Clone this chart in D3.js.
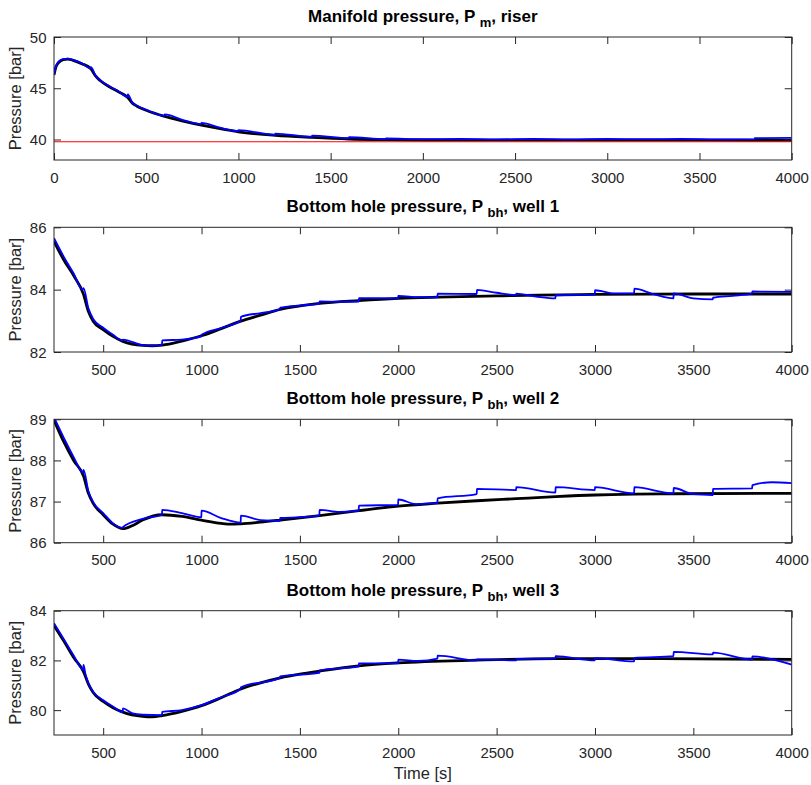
<!DOCTYPE html>
<html>
<head>
<meta charset="utf-8">
<script src="https://cdn.jsdelivr.net/npm/d3@7"></script>
<style>
  body { margin: 0; background: #fff; }
  svg { display: block; }
</style>
</head>
<body>
<svg id="chart"></svg>
<script>
// values: [time (s), pressure (bar)]
const pmRef = [[0,46.3],[10,47.05],[25,47.5],[50,47.8],[75,47.85],[100,47.75],[150,47.4],[200,46.9],[225,46.2],[250,45.75],[300,45.15],[350,44.65],[400,44.1],[425,43.55],[450,43.25],[500,42.85],[600,42.25],[700,41.8],[800,41.4],[900,41.05],[1000,40.75],[1200,40.4],[1400,40.2],[1600,40.05],[1800,39.98],[2000,39.95],[2500,39.93],[3000,39.93],[3500,39.93],[4000,39.92]];
const pmMeas = [[0,46.3],[10,47.1],[25,47.6],[50,47.85],[75,47.9],[100,47.8],[150,47.45],[199,46.95],[200,47.05],[225,46.25],[250,45.8],[300,45.2],[350,44.7],[399,44.15],[400,44.4],[425,43.6],[450,43.3],[500,42.9],[599,42.3],[600,42.45],[700,41.9],[799,41.5],[800,41.62],[900,41.15],[999,40.82],[1000,40.92],[1199,40.45],[1200,40.58],[1399,40.27],[1400,40.38],[1599,40.12],[1600,40.22],[1799,40.03],[1800,40.1],[2000,40.04],[2200,40.05],[2400,40.01],[2600,40.05],[2800,40.01],[3000,40.05],[3200,40.04],[3400,40.05],[3600,40.01],[3799,40.04],[3800,40.14],[4000,40.15]];
const pmSetpoint = 39.78;

const pbh1Ref = [[250,85.55],[300,84.95],[350,84.45],[400,83.85],[425,83.3],[450,82.98],[500,82.72],[550,82.5],[600,82.34],[700,82.21],[750,82.2],[800,82.22],[900,82.35],[1000,82.52],[1100,82.75],[1200,82.99],[1300,83.18],[1400,83.37],[1500,83.48],[1600,83.56],[1800,83.65],[2000,83.72],[2200,83.76],[2500,83.8],[3000,83.85],[3500,83.86],[4000,83.86]];
const pbh1Meas = [[250,85.65],[300,85.05],[350,84.52],[395,84.0],[400,84.05],[425,83.4],[450,83.05],[500,82.78],[550,82.55],[599,82.37],[600,82.4],[700,82.22],[750,82.2],[799,82.22],[800,82.37],[900,82.4],[999,82.5],[1000,82.55],[1100,82.77],[1199,83.0],[1200,83.13],[1300,83.25],[1399,83.37],[1400,83.42],[1500,83.49],[1599,83.55],[1600,83.62],[1700,83.61],[1799,83.62],[1800,83.73],[1999,83.72],[2000,83.8],[2100,83.76],[2199,83.75],[2200,83.87],[2399,83.86],[2400,83.99],[2500,83.9],[2599,83.83],[2600,83.87],[2700,83.78],[2799,83.72],[2800,83.82],[2999,83.84],[3000,83.98],[3100,83.88],[3199,83.88],[3200,84.03],[3300,83.85],[3399,83.72],[3400,83.88],[3500,83.72],[3599,83.69],[3600,83.74],[3700,83.8],[3799,83.87],[3800,83.94],[4000,83.93]];

const pbh2Ref = [[250,88.98],[300,88.45],[350,88.0],[400,87.62],[425,87.2],[450,86.95],[500,86.68],[550,86.45],[600,86.34],[650,86.42],[700,86.55],[800,86.68],[900,86.64],[1000,86.55],[1100,86.47],[1150,86.45],[1200,86.46],[1300,86.5],[1400,86.55],[1600,86.66],[1800,86.78],[2000,86.89],[2200,86.96],[2400,87.02],[2600,87.07],[2800,87.12],[3000,87.16],[3200,87.18],[3400,87.19],[4000,87.2]];
const pbh2Meas = [[250,89.05],[300,88.55],[350,88.08],[399,87.7],[400,87.77],[425,87.25],[450,86.98],[500,86.72],[550,86.47],[599,86.36],[600,86.38],[700,86.58],[799,86.68],[800,86.8],[900,86.72],[999,86.62],[1000,86.78],[1100,86.6],[1199,86.49],[1200,86.66],[1300,86.55],[1399,86.53],[1400,86.6],[1500,86.62],[1599,86.66],[1600,86.8],[1700,86.75],[1799,86.78],[1800,86.9],[1999,86.92],[2000,87.05],[2090,86.94],[2199,86.96],[2200,87.08],[2399,87.18],[2400,87.31],[2599,87.28],[2600,87.35],[2799,87.22],[2800,87.35],[2999,87.28],[3000,87.35],[3199,87.2],[3200,87.35],[3399,87.2],[3400,87.33],[3500,87.18],[3599,87.16],[3600,87.31],[3799,87.32],[3800,87.4],[3900,87.47],[4000,87.45]];

const pbh3Ref = [[250,83.4],[300,82.78],[350,82.12],[400,81.55],[425,81.05],[450,80.7],[500,80.35],[550,80.1],[600,79.92],[700,79.75],[750,79.73],[800,79.78],[900,79.95],[1000,80.18],[1100,80.5],[1200,80.85],[1300,81.1],[1400,81.3],[1500,81.45],[1600,81.57],[1800,81.78],[2000,81.9],[2400,82.01],[2800,82.07],[3200,82.07],[4000,82.04]];
const pbh3Meas = [[250,83.5],[300,82.85],[350,82.2],[399,81.62],[400,81.82],[410,81.45],[425,81.08],[450,80.73],[500,80.4],[550,80.15],[599,79.92],[600,80.07],[650,79.87],[700,79.82],[799,79.8],[800,79.93],[900,80.0],[1000,80.2],[1100,80.52],[1199,80.85],[1200,80.92],[1399,81.3],[1400,81.36],[1599,81.5],[1600,81.6],[1799,81.76],[1800,81.88],[1999,81.88],[2000,82.03],[2100,81.98],[2199,82.07],[2200,82.19],[2399,82.0],[2400,82.04],[2599,82.0],[2600,82.06],[2799,82.08],[2800,82.17],[2999,82.0],[3000,82.09],[3199,81.96],[3200,82.1],[3399,82.17],[3400,82.34],[3599,82.24],[3600,82.31],[3799,82.03],[3800,82.16],[4000,81.83]];

const xTicksFull = [0,500,1000,1500,2000,2500,3000,3500,4000];
const xTicksWell = [500,1000,1500,2000,2500,3000,3500,4000];
const yTicksRiser = [40,45,50];
const yTicksWell1 = [82,84,86];
const yTicksWell2 = [86,87,88,89];
const yTicksWell3 = [80,82,84];

const titles = [
  ['Manifold pressure, P ', 'm', ', riser'],
  ['Bottom hole pressure, P ', 'bh', ', well 1'],
  ['Bottom hole pressure, P ', 'bh', ', well 2'],
  ['Bottom hole pressure, P ', 'bh', ', well 3']
];

const width = 811, height = 785;
const left = 54, right = 791.7;
const axisColor = '#262626';
const font = "'Liberation Sans', Arial, Helvetica, sans-serif";
const plain = d => String(d);

const panels = [
  {top: 37, bottom: 160, xDomain: [0, 4000], yDomain: [38, 50], xTicks: xTicksFull, yTicks: yTicksRiser, ref: pmRef, meas: pmMeas, setpoint: pmSetpoint},
  {top: 227.3, bottom: 352, xDomain: [250, 4000], yDomain: [82, 86], xTicks: xTicksWell, yTicks: yTicksWell1, ref: pbh1Ref, meas: pbh1Meas},
  {top: 419.3, bottom: 542.7, xDomain: [250, 4000], yDomain: [86, 89], xTicks: xTicksWell, yTicks: yTicksWell2, ref: pbh2Ref, meas: pbh2Meas},
  {top: 610.7, bottom: 735, xDomain: [250, 4000], yDomain: [79, 84], xTicks: xTicksWell, yTicks: yTicksWell3, ref: pbh3Ref, meas: pbh3Meas}
];

const svg = d3.select('#chart')
  .attr('width', width)
  .attr('height', height)
  .style('font-family', font);

panels.forEach((p, i) => {
  const x = d3.scaleLinear().domain(p.xDomain).range([left, right]);
  const y = d3.scaleLinear().domain(p.yDomain).range([p.bottom, p.top]);
  const g = svg.append('g');

  const clipId = `clip${i}`;
  svg.append('clipPath').attr('id', clipId)
    .append('rect')
    .attr('x', left).attr('y', p.top)
    .attr('width', right - left).attr('height', p.bottom - p.top);

  const line = d3.line()
    .x(d => x(d[0]))
    .y(d => y(d[1]))
    .curve(d3.curveMonotoneX);
  const plot = g.append('g').attr('clip-path', `url(#${clipId})`);

  plot.append('path')
    .datum(p.ref)
    .attr('fill', 'none')
    .attr('stroke', '#000')
    .attr('stroke-width', 2.8)
    .attr('stroke-linejoin', 'round')
    .attr('d', line);

  plot.append('path')
    .datum(p.meas)
    .attr('fill', 'none')
    .attr('stroke', '#0000ff')
    .attr('stroke-width', 1.8)
    .attr('stroke-linejoin', 'round')
    .attr('d', line);

  if (p.setpoint !== undefined) {
    plot.append('path')
      .datum(p.xDomain.map(t => [t, p.setpoint]))
      .attr('fill', 'none')
      .attr('stroke', '#ff0000')
      .attr('stroke-width', 1.1)
      .attr('d', line);
  }

  // axes with inward ticks, box on
  const bottomAxis = g.append('g')
    .attr('transform', `translate(0,${p.bottom})`)
    .call(d3.axisBottom(x).tickValues(p.xTicks).tickFormat(plain).tickSize(-7).tickSizeOuter(0).tickPadding(12));
  g.append('g')
    .attr('transform', `translate(0,${p.top})`)
    .call(d3.axisTop(x).tickValues(p.xTicks).tickSize(-7).tickSizeOuter(0).tickFormat(''));
  const leftAxis = g.append('g')
    .attr('transform', `translate(${left},0)`)
    .call(d3.axisLeft(y).tickValues(p.yTicks).tickFormat(plain).tickSize(-7).tickSizeOuter(0).tickPadding(7.5));
  g.append('g')
    .attr('transform', `translate(${right},0)`)
    .call(d3.axisRight(y).tickValues(p.yTicks).tickSize(-7).tickSizeOuter(0).tickFormat(''));

  g.selectAll('.domain').remove();
  g.selectAll('.tick line').attr('stroke', axisColor).attr('stroke-width', 1);
  g.selectAll('.tick text')
    .attr('fill', axisColor)
    .style('font-size', '15px')
    .style('font-family', font);
  bottomAxis.selectAll('.tick text').attr('dy', '0.71em');
  leftAxis.selectAll('.tick text').attr('dy', '0.35em');

  g.append('rect')
    .attr('x', left).attr('y', p.top)
    .attr('width', right - left).attr('height', p.bottom - p.top)
    .attr('fill', 'none')
    .attr('stroke', axisColor)
    .attr('stroke-width', 1);

  // title with subscript
  const t = titles[i];
  const title = g.append('text')
    .attr('x', (left + right) / 2)
    .attr('y', p.top - 15)
    .attr('text-anchor', 'middle')
    .style('font-size', '17px')
    .style('font-weight', 'bold')
    .attr('fill', '#000');
  title.append('tspan').text(t[0]);
  title.append('tspan').attr('dy', 5).style('font-size', '13px').text(t[1]);
  title.append('tspan').attr('dy', -5).text(t[2]);

  g.append('text')
    .attr('transform', `translate(21,${(p.top + p.bottom) / 2}) rotate(-90)`)
    .attr('text-anchor', 'middle')
    .attr('fill', axisColor)
    .style('font-size', '16.5px')
    .text('Pressure [bar]');
});

svg.append('text')
  .attr('x', (left + right) / 2)
  .attr('y', 779)
  .attr('text-anchor', 'middle')
  .attr('fill', axisColor)
  .style('font-size', '16.5px')
  .text('Time [s]');
</script>
</body>
</html>
